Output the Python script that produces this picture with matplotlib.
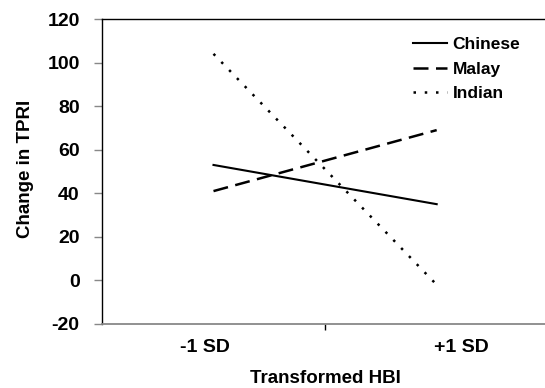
import matplotlib.pyplot as plt

# ==== DATOS ====
categorias = ["-1 SD", "+1 SD"]
chinese = [53, 35]
malay = [41, 69]
indian = [104, -2]

x_pos = [0.5, 1.5]

plt.rcParams["font.family"] = ["Liberation Sans", "DejaVu Sans"]
plt.rcParams["font.weight"] = "bold"
plt.rcParams["axes.unicode_minus"] = False

fig = plt.figure(figsize=(5.45, 3.88), dpi=100)
ax = fig.add_axes([0.187, 0.165, 0.819, 0.786])

ax.plot(x_pos, chinese, color="black", lw=1.5, ls="-", label="Chinese")
ax.plot(x_pos, malay, color="black", lw=1.8, ls=(0, (6, 3)), label="Malay")
ax.plot(x_pos, indian, color="black", lw=1.8, ls=(0, (1, 3.5)), label="Indian")

ax.set_xlim(0, 2)
ax.set_ylim(-20, 120)
ax.set_yticks(range(-20, 121, 20))

# etiquetas de categoría (como en Excel) y marca central
ax.set_xticks([0.46, 1.61])
ax.set_xticklabels(categorias)
ax.set_xticks([1], minor=True)
ax.tick_params(axis="x", which="major", length=0, pad=11, labelsize=14)
ax.tick_params(axis="x", which="minor", length=4, width=1, color="black")
ax.tick_params(axis="y", length=6, width=1, color="#888888", labelsize=14, pad=10)

for spine in ["left", "top"]:
    ax.spines[spine].set_color("black")
    ax.spines[spine].set_linewidth(1)
ax.spines["bottom"].set_color("#888888")
ax.spines["bottom"].set_linewidth(1.3)
ax.spines["right"].set_visible(False)

ax.set_xlabel("Transformed HBI", fontsize=13.5, fontweight="bold", va="baseline")
ax.xaxis.set_label_coords(0.5, -0.192)
ax.set_ylabel("Change in TPRI", fontsize=13.5, fontweight="bold")
ax.yaxis.set_label_coords(-0.152, 0.51)

ax.legend(loc="upper left", bbox_to_anchor=(0.757, 0.905), bbox_transform=fig.transFigure,
          frameon=False, fontsize=12.5, handlelength=2.0, handletextpad=0.3,
          labelspacing=0.55, borderaxespad=0, borderpad=0)

fig.savefig("out.png", dpi=100)
